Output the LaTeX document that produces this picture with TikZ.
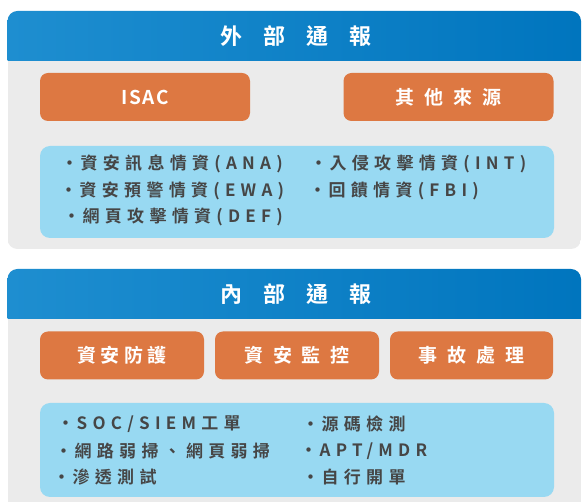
\documentclass[tikz,border=0pt]{standalone}
\usepackage{fontspec}
\usepackage{xcolor}
\usepackage{tikz}
\newfontfamily\cjk{Noto Sans CJK TC}[BoldFont={Noto Sans CJK TC Bold}]
\newcommand\itemdot{・\kern2.5pt}
\definecolor{hdleft}{RGB}{30,142,208}
\definecolor{hdright}{RGB}{0,117,190}
\definecolor{panelgray}{RGB}{235,235,235}
\definecolor{tagorange}{RGB}{221,120,66}
\definecolor{listblue}{RGB}{152,217,242}
\definecolor{listtext}{RGB}{70,70,70}

\begin{document}
\begin{tikzpicture}[x=1pt,y=-1pt,
  panel/.style={rounded corners=10pt},
  headline/.style={text=white, font=\cjk\bfseries\fontsize{22}{26}\selectfont\addfontfeature{LetterSpace=96}},
  tagbox/.style={fill=tagorange, rounded corners=8pt, inner sep=0pt, minimum height=48pt, text=white,
    font=\cjk\bfseries\fontsize{19}{22}\selectfont\addfontfeature{LetterSpace=#1}},
  tagbox/.default=51,
  listbox/.style={fill=listblue, rounded corners=10pt, inner sep=0pt},
  item/.style={anchor=west, inner sep=0pt, text=listtext, font=\cjk\bfseries\fontsize{17}{20}\selectfont\addfontfeature{LetterSpace=31}}]
\clip (0,0) rectangle (582,502);
\fill[white] (0,0) rectangle (582,502);

% external panel
\begin{scope}
\clip[panel] (7.5,11) rectangle (581,249);
\fill[panelgray] (7.5,11) rectangle (581,249);
\shade[left color=hdleft, right color=hdright] (7.5,11) rectangle (581,61);
\end{scope}
\node[headline] (extitle) at (296,36) {外部通報};
\node[tagbox=8, minimum width=210pt] (isac) at (145,97) {ISAC};
\node[tagbox, minimum width=210pt] (other) at (448.5,97) {其他來源};
\node[listbox, minimum width=514pt, minimum height=92pt] (exlist) at (297,192) {};
\node[item] (ana) at (61,164) {\itemdot 資安訊息情資(ANA)};
\node[item] (ewa) at (60,190.5) {\itemdot 資安預警情資(EWA)};
\node[item] (def) at (63,217) {\itemdot 網頁攻擊情資(DEF)};
\node[item] (int) at (310,164) {\itemdot 入侵攻擊情資(INT)};
\node[item] (fbi) at (309,190.5) {\itemdot 回饋情資(FBI)};

% internal panel
\begin{scope}
\clip[panel] (7.5,269) rectangle (581,530);
\fill[panelgray] (7.5,269) rectangle (581,530);
\shade[left color=hdleft, right color=hdright] (7.5,269) rectangle (581,319);
\end{scope}
\node[headline] (intitle) at (296,294) {內部通報};
\node[tagbox=23, minimum width=164pt] (defend) at (122,355.5) {資安防護};
\node[tagbox, minimum width=164pt] (monitor) at (297,355.5) {資安監控};
\node[tagbox, minimum width=163pt] (incident) at (471.5,355.5) {事故處理};
\node[listbox, minimum width=514pt, minimum height=94pt] (inlist) at (297,450) {};
\node[item] (soc) at (57,424) {\itemdot SOC/SIEM工單};
\node[item] (scan) at (55,451) {\itemdot 網路弱掃、網頁弱掃};
\node[item] (pentest) at (53,477) {\itemdot 滲透測試};
\node[item] (code) at (302,424) {\itemdot 源碼檢測};
\node[item] (apt) at (300,451) {\itemdot APT/MDR};
\node[item] (self) at (302,477) {\itemdot 自行開單};
\end{tikzpicture}
\end{document}
